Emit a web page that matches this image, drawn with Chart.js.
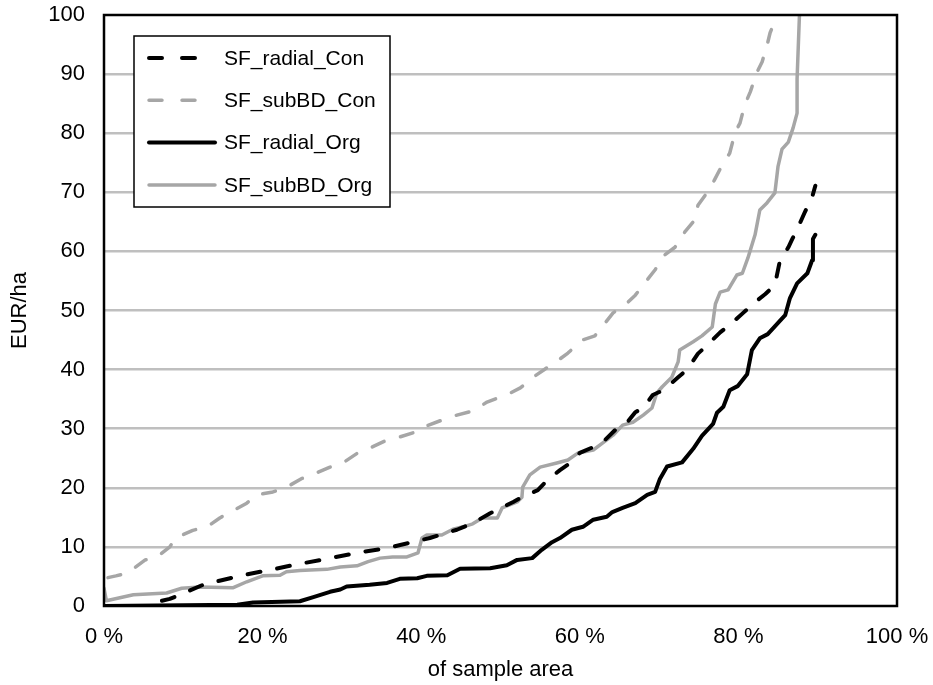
<!DOCTYPE html>
<html><head><meta charset="utf-8">
<script src="https://cdn.jsdelivr.net/npm/chart.js@4.4.1/dist/chart.umd.min.js"></script>
<style>html,body{margin:0;padding:0;background:#fff;}canvas{display:block;}</style>
</head><body>
<canvas id="c" width="933" height="685"></canvas>
<script>
const seriesNames = ["SF_radial_Con", "SF_subBD_Con", "SF_radial_Org", "SF_subBD_Org"];

const radialConX = [0, 5.8, 6, 8.3, 9.6, 12.5, 13.4, 15.9, 17.5, 19.7, 21.3, 23.8, 28.5, 31.9, 35.7, 39.5, 41.1, 44.5, 46.5, 48.7, 51.6, 52.7, 54.7, 55.9, 57.5, 58.8, 60, 61.7, 62.9, 64.7, 66, 67, 68, 69.2, 70.5, 72.4, 73.6, 74.9, 76.2, 77.7, 79.2, 80.6, 82.1, 83.4, 84.6, 85.2, 86.3, 86.8, 87.5, 88.4, 89.3, 89.7];
const radialConY = [0, 0, 0.5, 1.2, 1.9, 3.6, 3.9, 4.7, 5.2, 5.8, 6.2, 6.9, 8.1, 9, 9.8, 11, 11.5, 12.9, 14, 15.7, 17.6, 18.4, 19.6, 21.3, 23, 24.2, 25.9, 26.9, 27.7, 30.1, 31.1, 32.8, 33.5, 35.7, 36.5, 38.7, 40.1, 42.7, 44.3, 46.3, 47.9, 49.6, 51.4, 52.8, 54.3, 58.2, 60.7, 62.1, 64, 66.7, 69.2, 71.1];

const subBDConX = [0.5, 1.5, 3, 5.2, 6.7, 8.3, 9, 11.2, 13, 14.6, 16.1, 18, 19.3, 21.3, 23, 25, 26.4, 28.5, 30.1, 32, 33.5, 35.4, 37.3, 39.2, 40.7, 42.7, 44.5, 46.5, 48.3, 51.2, 52.5, 54.1, 55.4, 57.3, 58.5, 60.3, 61.9, 63.2, 64.2, 66, 67, 68.5, 69.5, 70.7, 72, 73.3, 74.3, 74.9, 76.4, 77.1, 78.1, 78.9, 79.6, 80.2, 80.8, 81.5, 82.3, 83, 83.6, 84, 84.9];
const subBDConY = [4.8, 5.1, 5.6, 7.8, 8.3, 10, 11.5, 12.8, 13.4, 14.9, 16, 17.4, 18.8, 19.3, 20.1, 21.6, 22.3, 23.5, 24.2, 25.9, 26.7, 27.9, 28.6, 29.4, 30.5, 31.5, 32.3, 33, 34.5, 36, 36.9, 38.7, 39.9, 41.6, 42.8, 45, 45.7, 47.9, 49.6, 51.3, 52.6, 55.2, 56.9, 59.4, 60.7, 63.4, 65, 67.8, 70.6, 72.4, 75, 76.6, 80.2, 81.7, 84.8, 87, 90.2, 92.1, 94.8, 97, 100];

const radialOrgX = [0, 16.8, 18.8, 24.7, 26.4, 28.5, 29.8, 30.6, 33.5, 35.7, 37.3, 39.5, 40.7, 43.3, 44.9, 48.7, 50.8, 52.1, 54, 55.2, 56.5, 57.5, 59, 60.4, 61.7, 63.4, 64.1, 65.4, 67, 68.5, 69.5, 70.1, 71, 72.9, 74.3, 75.4, 76.8, 77.3, 78.1, 78.9, 79.9, 81.1, 81.7, 82.7, 83.7, 85, 85.9, 86.5, 87.4, 88.7, 89.3, 89.4, 89.7];
const radialOrgY = [0, 0.2, 0.6, 0.8, 1.5, 2.4, 2.8, 3.3, 3.6, 3.9, 4.6, 4.7, 5.1, 5.2, 6.3, 6.4, 6.9, 7.8, 8.1, 9.5, 10.8, 11.5, 12.9, 13.4, 14.6, 15.1, 15.9, 16.6, 17.4, 18.8, 19.3, 21.5, 23.6, 24.3, 26.6, 28.8, 30.8, 32.7, 33.7, 36.5, 37.2, 39.2, 43.3, 45.3, 46, 47.9, 49.2, 52.1, 54.6, 56.3, 58.5, 62.1, 62.8];

const subBDOrgX = [0, 0.3, 2, 3.7, 7.9, 9.8, 12.1, 16.3, 18, 20, 22.2, 23, 24.7, 26, 28.1, 29.8, 31.9, 33.3, 34.8, 36.4, 38.2, 39.6, 40.1, 40.7, 42.6, 44, 45.3, 46.5, 47.7, 49.6, 50.2, 52.1, 52.7, 52.8, 53.7, 55, 57.1, 58.5, 59.8, 61.7, 62.9, 64.2, 65.4, 66.7, 68, 69.1, 69.7, 70.4, 71.6, 72.4, 72.6, 74.3, 75.4, 76.7, 77.1, 77.7, 78.7, 79.8, 80.5, 81.2, 82.1, 82.7, 83.6, 84.6, 85, 85.5, 86.3, 86.9, 87.4, 87.4, 87.7];
const subBDOrgY = [3, 0.9, 1.4, 1.9, 2.2, 3, 3.2, 3.1, 4.1, 5.1, 5.2, 5.8, 6, 6.1, 6.2, 6.6, 6.8, 7.5, 8.1, 8.3, 8.3, 9, 11.5, 12, 12, 13, 13.4, 13.9, 14.9, 14.9, 16.6, 17.6, 18.4, 20.1, 22.2, 23.5, 24.2, 24.7, 25.9, 26.4, 27.6, 28.9, 30.6, 31.1, 32.3, 33.5, 36, 37.1, 38.7, 41.3, 43.3, 44.7, 45.7, 47.2, 51.1, 53.1, 53.5, 56, 56.3, 58.9, 62.8, 67, 68.2, 69.9, 74.4, 77.3, 78.5, 80.9, 83.4, 89.2, 100];

const xTickValues = [0, 20, 40, 60, 80, 100];
const yTickValues = [0, 10, 20, 30, 40, 50, 60, 70, 80, 90, 100];
const xTitle = "of sample area";
const yTitle = "EUR/ha";

function pts(xs, ys) { return xs.map((x, i) => ({ x: x, y: ys[i] })); }

const FONT = "'Liberation Sans', Arial, sans-serif";
const BLACK = '#000000';
const GRAY = '#A6A6A6';

const framePlugin = {
  id: 'frame',
  afterDatasetsDraw(chart) {
    const { ctx, chartArea: a } = chart;
    ctx.save();
    ctx.strokeStyle = '#000';
    ctx.lineWidth = 2.5;
    ctx.setLineDash([]);
    ctx.strokeRect(a.left, a.top, a.right - a.left, a.bottom - a.top);
    ctx.restore();
  }
};

const boxLegendPlugin = {
  id: 'boxLegend',
  afterDraw(chart) {
    const ctx = chart.ctx;
    const a = chart.chartArea;
    const bx = a.left + 30, by = a.top + 21, bw = 256, bh = 171;
    ctx.save();
    ctx.fillStyle = '#fff';
    ctx.fillRect(bx, by, bw, bh);
    ctx.strokeStyle = '#000';
    ctx.lineWidth = 1.5;
    ctx.strokeRect(bx, by, bw, bh);
    chart.data.datasets.forEach((ds, i) => {
      const y = by + 22 + i * 42.3;
      ctx.beginPath();
      ctx.strokeStyle = ds.borderColor;
      ctx.lineWidth = ds.borderWidth;
      ctx.lineCap = 'round';
      ctx.setLineDash(ds.borderDash && ds.borderDash.length ? [13, 20] : []);
      ctx.moveTo(bx + 15, y);
      ctx.lineTo(bx + 81, y);
      ctx.stroke();
      ctx.setLineDash([]);
      ctx.fillStyle = '#000';
      ctx.font = '21px ' + FONT;
      ctx.textBaseline = 'middle';
      ctx.textAlign = 'left';
      ctx.fillText(ds.label, bx + 90, y + 1);
    });
    ctx.restore();
  }
};

const lineBase = { pointRadius: 0, pointHoverRadius: 0, tension: 0, fill: false, borderCapStyle: 'round', borderJoinStyle: 'round' };

new Chart(document.getElementById('c'), {
  type: 'line',
  data: {
    datasets: [
      Object.assign({}, lineBase, { label: seriesNames[0], data: pts(radialConX, radialConY), borderColor: BLACK, borderWidth: 4, borderDash: [13, 17] }),
      Object.assign({}, lineBase, { label: seriesNames[1], data: pts(subBDConX, subBDConY), borderColor: GRAY, borderWidth: 3.5, borderDash: [13, 17] }),
      Object.assign({}, lineBase, { label: seriesNames[2], data: pts(radialOrgX, radialOrgY), borderColor: BLACK, borderWidth: 4, borderDash: [] }),
      Object.assign({}, lineBase, { label: seriesNames[3], data: pts(subBDOrgX, subBDOrgY), borderColor: GRAY, borderWidth: 3.5, borderDash: [] })
    ]
  },
  options: {
    responsive: false,
    animation: false,
    devicePixelRatio: 1,
    layout: { padding: { top: 15, right: 36, left: 0, bottom: 0 } },
    plugins: { legend: { display: false }, tooltip: { enabled: false } },
    scales: {
      x: {
        type: 'linear', min: 0, max: 100,
        afterBuildTicks: s => { s.ticks = xTickValues.map(v => ({ value: v })); },
        afterFit: s => { s.height = 79; s.paddingLeft = 0; s.paddingRight = 0; },
        grid: { display: false, drawTicks: false },
        border: { display: false },
        ticks: { color: '#000', font: { family: FONT, size: 22 }, padding: 18, maxRotation: 0, autoSkip: false, callback: v => v + ' %' },
        title: { display: true, text: xTitle, color: '#000', font: { family: FONT, size: 22 }, padding: { top: 0, bottom: 2 } }
      },
      y: {
        min: 0, max: 100,
        afterBuildTicks: s => { s.ticks = yTickValues.map(v => ({ value: v })); },
        afterFit: s => { s.width = 104; s.paddingTop = 0; s.paddingBottom = 0; },
        grid: {
          drawTicks: false,
          lineWidth: 2.5,
          color: c => (c.tick && (c.tick.value === 0 || c.tick.value === 100)) ? 'rgba(0,0,0,0)' : '#BFBFBF'
        },
        border: { display: false },
        ticks: { color: '#000', font: { family: FONT, size: 22 }, padding: 19, autoSkip: false },
        title: { display: true, text: yTitle, color: '#000', font: { family: FONT, size: 22 }, padding: { top: 7, bottom: 0 } }
      }
    }
  },
  plugins: [framePlugin, boxLegendPlugin]
});
</script>
</body></html>
